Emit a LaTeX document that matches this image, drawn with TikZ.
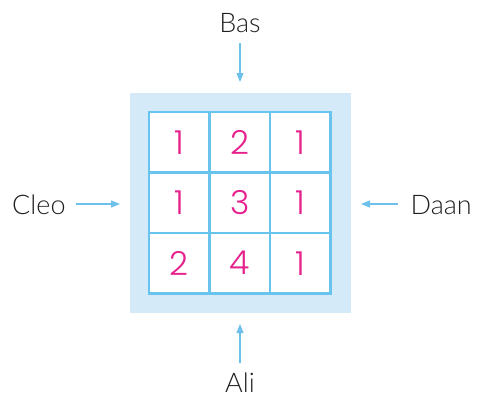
\documentclass[tikz,border=0pt]{standalone}
\usepackage{fontspec}
\setmainfont{Lato}[UprightFont=* Light]
\newfontfamily\digitfont{Poppins}[UprightFont=* Light]
\usetikzlibrary{arrows.meta, positioning}
\definecolor{gridblue}{RGB}{104, 196, 236}
\definecolor{boardfill}{RGB}{212, 234, 248}
\definecolor{arrowblue}{RGB}{108, 192, 234}
\definecolor{digitpink}{RGB}{230, 32, 140}
\definecolor{labelgray}{RGB}{35, 31, 32}

\begin{document}
\begin{tikzpicture}[
    x=1pt, y=-1pt,
    board/.style={rectangle, fill=boardfill, minimum width=221pt, minimum height=220pt, inner sep=0pt},
    cell/.style={rectangle, draw=gridblue, line width=2.4pt, fill=white, minimum size=60.5pt,
        inner sep=0pt, font=\digitfont\fontsize{33}{36}\selectfont, text=digitpink},
    who/.style={font=\fontsize{27}{30}\selectfont, text=labelgray, inner sep=0pt},
    arr/.style={-{Triangle[length=9pt, width=7pt]}, line width=1.2pt, arrowblue}
]
\useasboundingbox (0,0) rectangle (478,396);

% Board and grid
\node[board] (board) at (240.5,203) {};
\foreach \row/\vals [count=\r] in {1/{1,2,1}, 2/{1,3,1}, 3/{2,4,1}} {
  \foreach \v [count=\c] in \vals {
    \node[cell] (c\r\c) at ({118.8+60.5*\c}, {81.7+60.5*\r}) {\v};
  }
}

% Names around the board
\node[who, anchor=base] (bas) at (240,33) {Bas};
\node[who, anchor=base] (ali) at (240,392) {Ali};
\node[who, anchor=base west] (cleo) at (12,214) {Cleo};
\node[who, anchor=base east] (daan) at (472,214) {Daan};

\coordinate (basend) at (240,82);
\coordinate (aliend) at (240,324);
\coordinate (cleoend) at (120,204);
\coordinate (daanend) at (361,204);

\draw[arr] (bas.south |- 0,43) -- (basend);
\draw[arr] (ali.north |- 0,363) -- (aliend);
\draw[arr] (cleo.east |- cleoend) ++(10,0) -- (cleoend);
\draw[arr] (daan.west |- daanend) ++(-12,0) -- (daanend);

\end{tikzpicture}
\end{document}
